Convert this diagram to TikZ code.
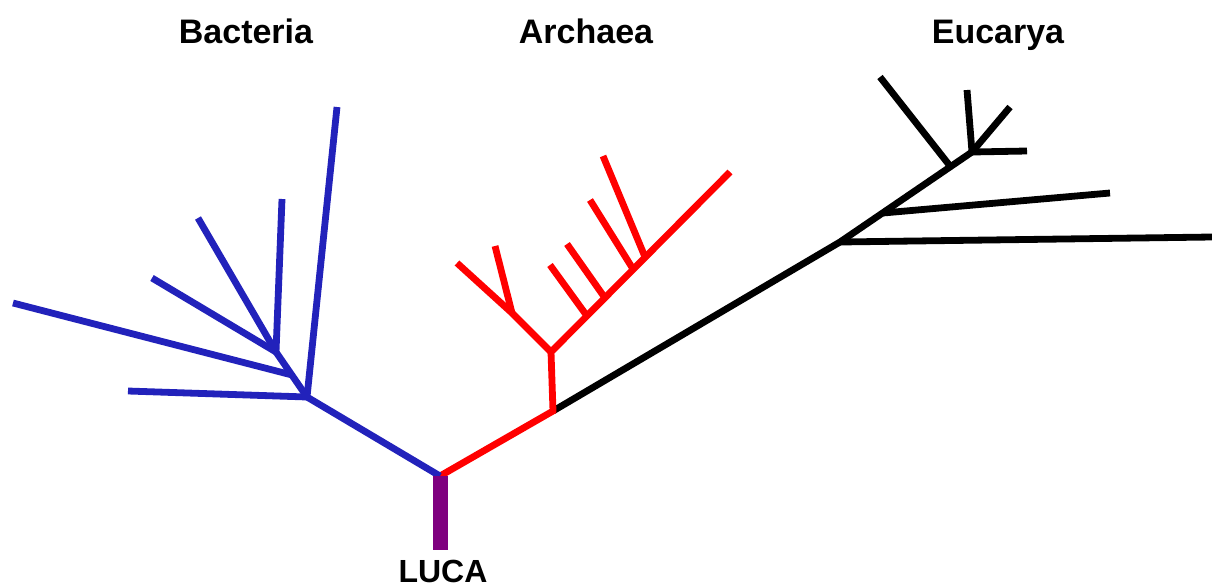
\documentclass[tikz,border=0pt]{standalone}
\usepackage{fontspec}
\setmainfont{Liberation Sans}
\definecolor{bactblue}{HTML}{2222BB}
\definecolor{lucapurple}{HTML}{7F007F}
\begin{document}
\begin{tikzpicture}[x=1pt,y=-1pt,
  branch/.style={line width=6.8pt,line cap=butt,line join=miter},
  bact/.style={branch,draw=bactblue},
  arch/.style={branch,draw=red},
  euk/.style={branch,draw=black},
  lbl/.style={font=\bfseries\fontsize{34}{40}\selectfont,anchor=base,inner sep=0pt}]
\useasboundingbox (0,0) rectangle (1212,587);
% labels
\node[lbl] (tb) at (246,43) {Bacteria};
\node[lbl] (ta) at (586,43) {Archaea};
\node[lbl] (te) at (998,43) {Eucarya};
\node[lbl,font=\bfseries\fontsize{32}{40}\selectfont] (tl) at (443,582) {LUCA};
% coordinates
\coordinate (root) at (440,476);
\coordinate (base) at (440,550);
\coordinate (B1) at (307,397);
\coordinate (B2) at (276,352);
\coordinate (B3) at (292,375);
\coordinate (b1) at (128,391);
\coordinate (b2) at (337,107);
\coordinate (b3) at (13,303);
\coordinate (b4) at (152,278);
\coordinate (b5) at (198,218);
\coordinate (b6) at (282,199);
\coordinate (R1) at (553,411);
\coordinate (R2) at (551,352);
\coordinate (R3) at (512,313);
\coordinate (r1) at (457,263);
\coordinate (r2) at (495,246);
\coordinate (rt) at (730,172);
\coordinate (P1) at (587,316);
\coordinate (P2) at (605,298);
\coordinate (P3) at (633,269);
\coordinate (P4) at (645,257);
\coordinate (r3) at (550,265);
\coordinate (r4) at (567,244);
\coordinate (r5) at (590,200);
\coordinate (r6) at (603,156);
\coordinate (E1) at (840,242);
\coordinate (E2) at (883,213);
\coordinate (E3) at (950,166);
\coordinate (E4) at (972,152);
\coordinate (e1) at (1212,237);
\coordinate (e2) at (1110,193);
\coordinate (e3) at (880,77);
\coordinate (e4) at (967,90);
\coordinate (e5) at (1010,107);
\coordinate (e6) at (1027,151);
% Eucarya
\draw[euk] (R1) -- (E1) -- (E4);
\draw[euk] (E1) -- (e1);
\draw[euk] (E2) -- (e2);
\draw[euk] (E3) -- (e3);
\draw[euk] (E4) -- (e4);
\draw[euk] (E4) -- (e5);
\draw[euk] (E4) -- (e6);
% Archaea
\draw[arch] (root) -- (R1) -- (R2) -- (rt);
\draw[arch] (R2) -- (R3) -- (r1);
\draw[arch] (R3) -- (r2);
\draw[arch] (P1) -- (r3);
\draw[arch] (P2) -- (r4);
\draw[arch] (P3) -- (r5);
\draw[arch] (P4) -- (r6);
% Bacteria
\draw[bact] (root) -- (B1) -- (B2);
\draw[bact] (B1) -- (b1);
\draw[bact] (B1) -- (b2);
\draw[bact] (B3) -- (b3);
\draw[bact] (B2) -- (b4);
\draw[bact] (B2) -- (b5);
\draw[bact] (B2) -- (b6);
% LUCA stem
\draw[line width=15pt,draw=lucapurple] (root) -- (base);
\end{tikzpicture}
\end{document}
